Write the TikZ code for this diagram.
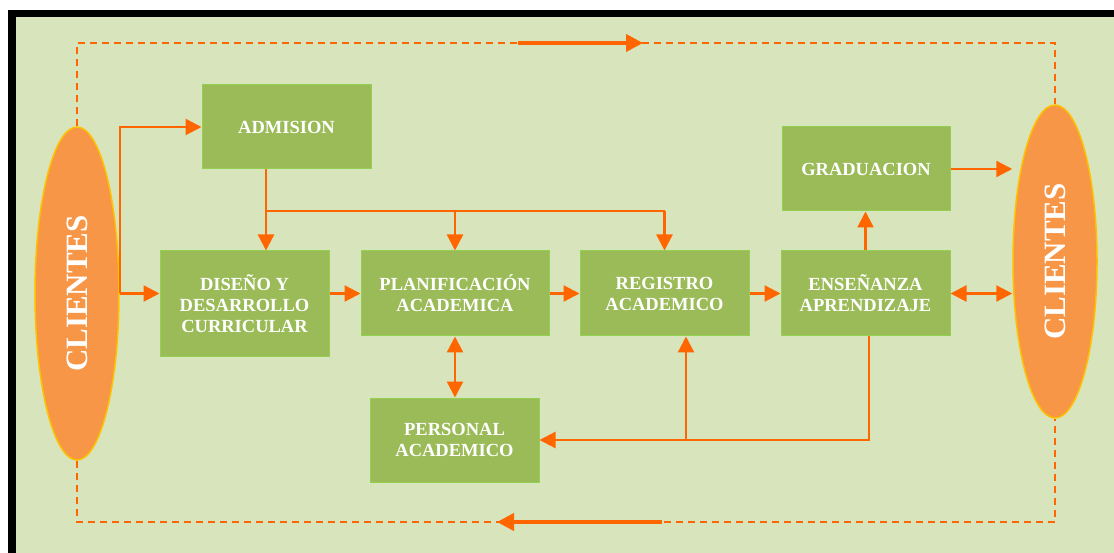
\documentclass[tikz,border=0pt]{standalone}
\usepackage{fontspec}
\setmainfont{Liberation Serif}
\usetikzlibrary{arrows.meta,shapes.geometric}
\definecolor{bggreen}{HTML}{D8E4BC}
\definecolor{boxgreen}{HTML}{9BBB59}
\definecolor{boxedge}{HTML}{92D050}
\definecolor{cliorange}{HTML}{F79646}
\definecolor{cliedge}{HTML}{FFC000}
\definecolor{arrorange}{HTML}{FF6600}
\tikzset{
	procbox/.style={rectangle, fill=boxgreen, draw=boxedge, line width=1pt, text=white, align=center, inner sep=0pt,
		font=\bfseries\fontsize{18.5}{21}\selectfont, minimum width=169pt, minimum height=84pt},
	clientnode/.style={ellipse, fill=cliorange, draw=cliedge, line width=1.5pt, text=white, inner sep=0pt,
		font=\bfseries\fontsize{31}{34}\selectfont, minimum width=84pt},
	flow/.style={draw=arrorange, line width=2.3pt, -{Triangle[length=16pt,width=16pt]}},
	twoway/.style={draw=arrorange, line width=2.3pt, {Triangle[length=16pt,width=16pt]}-{Triangle[length=16pt,width=16pt]}},
	plain/.style={draw=arrorange, line width=2.3pt},
	loopline/.style={draw=arrorange, line width=2.5pt, dash pattern=on 7pt off 5pt},
	bigflow/.style={draw=arrorange, line width=3.8pt, -{Triangle[length=17pt,width=17pt]}}
}

\begin{document}
\begin{tikzpicture}[x=1pt, y=-1pt]
		%%%%% START %%%%%
		\useasboundingbox (0, 0) rectangle (1114, 553);
		\fill[white] (0, 0) rectangle (1114, 553);
		\fill[black] (8, 10) rectangle (1114, 553);
		\fill[bggreen] (16, 17) rectangle (1114, 553);
		
		% dashed loop round the process
		\coordinate (tl) at (77, 43);
		\coordinate (tr) at (1055, 43);
		\coordinate (bl) at (77, 522);
		\coordinate (br) at (1055, 522);
		
		\node[clientnode, minimum height=333pt] (cliL) at (77, 293.5) {\rotatebox{90}{CLIENTES}};
		\node[clientnode, minimum height=313pt] (cliR) at (1055, 261.5) {\rotatebox{90}{CLIENTES}};
		
		\draw[loopline] (cliL.north) -- (tl) -- (tr) -- (cliR.north);
		\draw[loopline] (cliL.south) -- (bl) -- (br) -- (cliR.south);
		
		\coordinate (topA) at (518, 43);
		\coordinate (topB) at (643, 43);
		\coordinate (botA) at (662, 522);
		\coordinate (botB) at (497, 522);
		\draw[bigflow] (topA) -- (topB);
		\draw[bigflow] (botA) -- (botB);
		
		% boxes
		\node[procbox] (adm) at (286.5, 127) {ADMISION};
		\node[procbox, minimum height=106pt] (dis) at (244.5, 304) {DISEÑO Y\\DESARROLLO\\CURRICULAR};
		\node[procbox, minimum width=188pt, minimum height=85pt] (pla) at (455, 293.5) {PLANIFICACIÓN\\ACADEMICA};
		\node[procbox, minimum height=85pt] (reg) at (664.5, 293.5) {REGISTRO\\ACADEMICO};
		\node[procbox, minimum height=85pt] (ens) at (865.5, 293.5) {ENSEÑANZA\\APRENDIZAJE};
		\node[procbox, minimum width=168pt] (gra) at (866, 169) {GRADUACION};
		\node[procbox] (per) at (454.5, 440) {PERSONAL\\ACADEMICO};
		
		% connectors
		\draw[flow] (cliL.east) -- (cliL.east -| dis.west);
		\draw[flow] (cliL.east) |- (adm.west);
		
		\coordinate (j1) at (266, 211);
		\coordinate (j2) at (664.5, 211);
		\draw[flow] (j1 |- adm.south) -- (j1 |- dis.north);
		\draw[plain] (j1) -- (j2);
		\draw[flow] (j2) -- (reg.north);
		\draw[flow] (pla.north |- j1) -- (pla.north);
		
		\draw[flow] (dis.east |- pla.west) -- (pla.west);
		\draw[flow] (pla.east) -- (reg.west);
		\draw[flow] (reg.east) -- (ens.west);
		\draw[flow] (ens.north) -- (ens.north |- gra.south);
		\draw[flow] (gra.east) -- (cliR.west |- gra.east);
		\draw[twoway] (ens.east) -- (cliR.west |- ens.east);
		\draw[twoway] (pla.south) -- (pla.south |- per.north);
		
		\coordinate (j3) at (869, 440);
		\coordinate (j4) at (686, 440);
		\draw[flow] (ens.south -| j3) |- (per.east);
		\draw[flow] (j4) -- (j4 |- reg.south);
		
		%%%%% END %%%%%
	\end{tikzpicture}
\end{document}
